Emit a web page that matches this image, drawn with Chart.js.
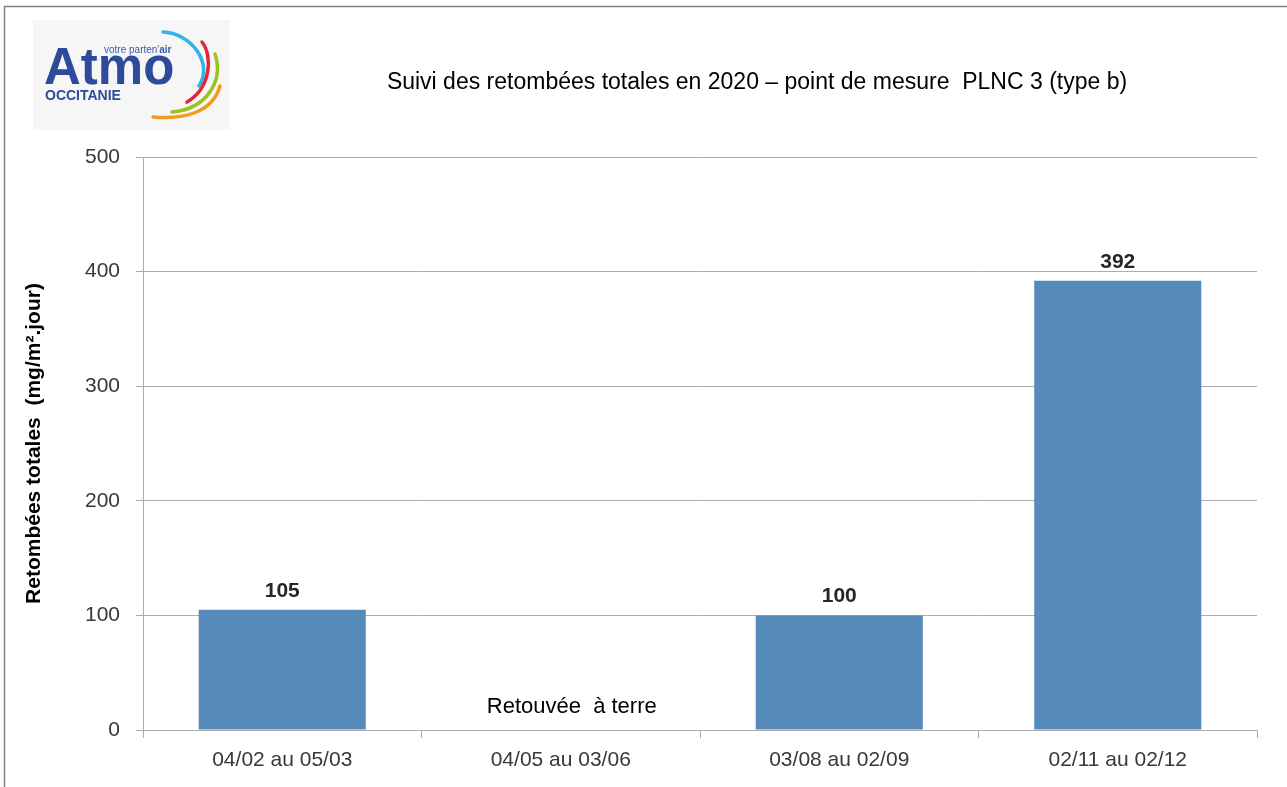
<!DOCTYPE html>
<html>
<head>
<meta charset="utf-8">
<title>Suivi des retombées totales - PLNC 3</title>
<script src="https://cdn.jsdelivr.net/npm/chart.js@4.4.1/dist/chart.umd.min.js"></script>
<style>
  html, body { margin: 0; padding: 0; background: #fff; }
  #wrap { width: 1287px; height: 787px; }
</style>
</head>
<body>
<div id="wrap"><canvas id="retombeesChart" width="1287" height="787"></canvas></div>
<script>
// données
const periodes = ['04/02 au 05/03', '04/05 au 03/06', '03/08 au 02/09', '02/11 au 02/12'];
const retombees = [105, null, 100, 392];
const yTicks = [0, 100, 200, 300, 400, 500];

const chartTitle = 'Suivi des retombées totales en 2020 – point de mesure  PLNC 3 (type b)';
const yTitle = 'Retombées totales  (mg/m².jour)';
const noteText = 'Retouvée  à terre';
const noteIndex = 1;
const noteValue = 20;

const FONT = '"Liberation Sans", Arial, sans-serif';
const barColor = '#568ab9';
const gridColor = '#adadad';

// cadre, logo, titre, etiquettes
const decor = {
    id: 'decor',
    beforeDraw(chart) {
        const ctx = chart.ctx;
        ctx.save();
        ctx.fillStyle = '#fff';
        ctx.fillRect(0, 0, chart.width, chart.height);

        // bordure haut / gauche
        ctx.strokeStyle = '#808080';
        ctx.lineWidth = 1.5;
        ctx.beginPath();
        ctx.moveTo(4.5, chart.height);
        ctx.lineTo(4.5, 6.5);
        ctx.lineTo(chart.width, 6.5);
        ctx.stroke();

        // logo Atmo
        ctx.fillStyle = '#f6f6f6';
        ctx.fillRect(33, 20, 197, 110);

        ctx.fillStyle = '#2d4b9a';
        ctx.textAlign = 'left';
        ctx.textBaseline = 'alphabetic';
        ctx.font = 'bold 51px ' + FONT;
        ctx.fillText('Atmo', 44, 84);
        ctx.font = 'bold 14px ' + FONT;
        ctx.fillText('OCCITANIE', 45, 100);

        ctx.fillStyle = '#3b5aa8';
        ctx.font = '10px ' + FONT;
        const part1 = "votre parten'";
        ctx.fillText(part1, 104, 53);
        const w1 = ctx.measureText(part1).width;
        ctx.font = 'bold 10px ' + FONT;
        ctx.fillText('air', 104 + w1, 53);

        ctx.lineWidth = 3.5;
        ctx.lineCap = 'round';
        const arcs = [
            ['#2cb5e5', [163, 32, 190, 33, 214, 62, 199, 86]],
            ['#e2263c', [202, 42, 213, 56, 211, 88, 187, 102]],
            ['#9cc31d', [215, 54, 224, 82, 206, 109, 172, 112]],
            ['#f39a1f', [220, 86, 213, 111, 187, 120, 153, 117]]
        ];
        arcs.forEach(([col, p]) => {
            ctx.strokeStyle = col;
            ctx.beginPath();
            ctx.moveTo(p[0], p[1]);
            ctx.bezierCurveTo(p[2], p[3], p[4], p[5], p[6], p[7]);
            ctx.stroke();
        });
        ctx.restore();
    },
    afterDraw(chart) {
        const ctx = chart.ctx;
        const x = chart.scales.x;
        const y = chart.scales.y;
        ctx.save();

        // titre
        ctx.fillStyle = '#000';
        ctx.font = '23px ' + FONT;
        ctx.textAlign = 'center';
        ctx.textBaseline = 'alphabetic';
        ctx.fillText(chartTitle, 757, 89);

        // valeurs au-dessus des barres
        ctx.fillStyle = '#262626';
        ctx.font = 'bold 21px ' + FONT;
        const meta = chart.getDatasetMeta(0);
        meta.data.forEach((bar, i) => {
            const v = retombees[i];
            if (v === null || v === undefined) return;
            ctx.fillText(String(v), bar.x, bar.y - 13);
        });

        // note pour la période sans mesure
        ctx.fillStyle = '#000';
        ctx.font = '22px ' + FONT;
        ctx.textBaseline = 'middle';
        ctx.fillText(noteText, x.getPixelForValue(noteIndex) + 11, y.getPixelForValue(noteValue));
        ctx.restore();
    }
};

const data = {
    labels: periodes,
    datasets: [{
        label: 'Retombées totales',
        data: retombees,
        backgroundColor: barColor,
        borderWidth: 0,
        barPercentage: 0.6,
        categoryPercentage: 1.0
    }]
};

const config = {
    type: 'bar',
    data: data,
    options: {
        responsive: false,
        animation: false,
        layout: { padding: { left: 0, right: 30, top: 157, bottom: 0 } },
        plugins: {
            legend: { display: false },
            tooltip: { enabled: false },
            title: { display: false }
        },
        scales: {
            x: {
                afterFit: (scale) => { scale.height = 57; },
                grid: {
                    offset: true,
                    drawOnChartArea: false,
                    drawTicks: true,
                    tickLength: 8,
                    color: gridColor
                },
                border: { color: gridColor, width: 1 },
                ticks: {
                    color: '#383838',
                    padding: 10,
                    font: { family: FONT, size: 21 }
                }
            },
            y: {
                min: 0,
                max: 500,
                afterFit: (scale) => { scale.width = 143; },
                afterBuildTicks: (axis) => { axis.ticks = yTicks.map(v => ({ value: v })); },
                grid: {
                    color: gridColor,
                    tickLength: 7,
                    drawTicks: true
                },
                border: { color: gridColor, width: 1 },
                ticks: {
                    color: '#383838',
                    padding: 16,
                    font: { family: FONT, size: 21 }
                },
                title: {
                    display: true,
                    text: yTitle,
                    color: '#000',
                    padding: { top: 22, bottom: 0 },
                    font: { family: FONT, size: 21, weight: 'bold' }
                }
            }
        }
    },
    plugins: [decor]
};

// eslint-disable-next-line
const retombeesChart = new Chart(
    document.getElementById('retombeesChart'),
    config
);
</script>
</body>
</html>
